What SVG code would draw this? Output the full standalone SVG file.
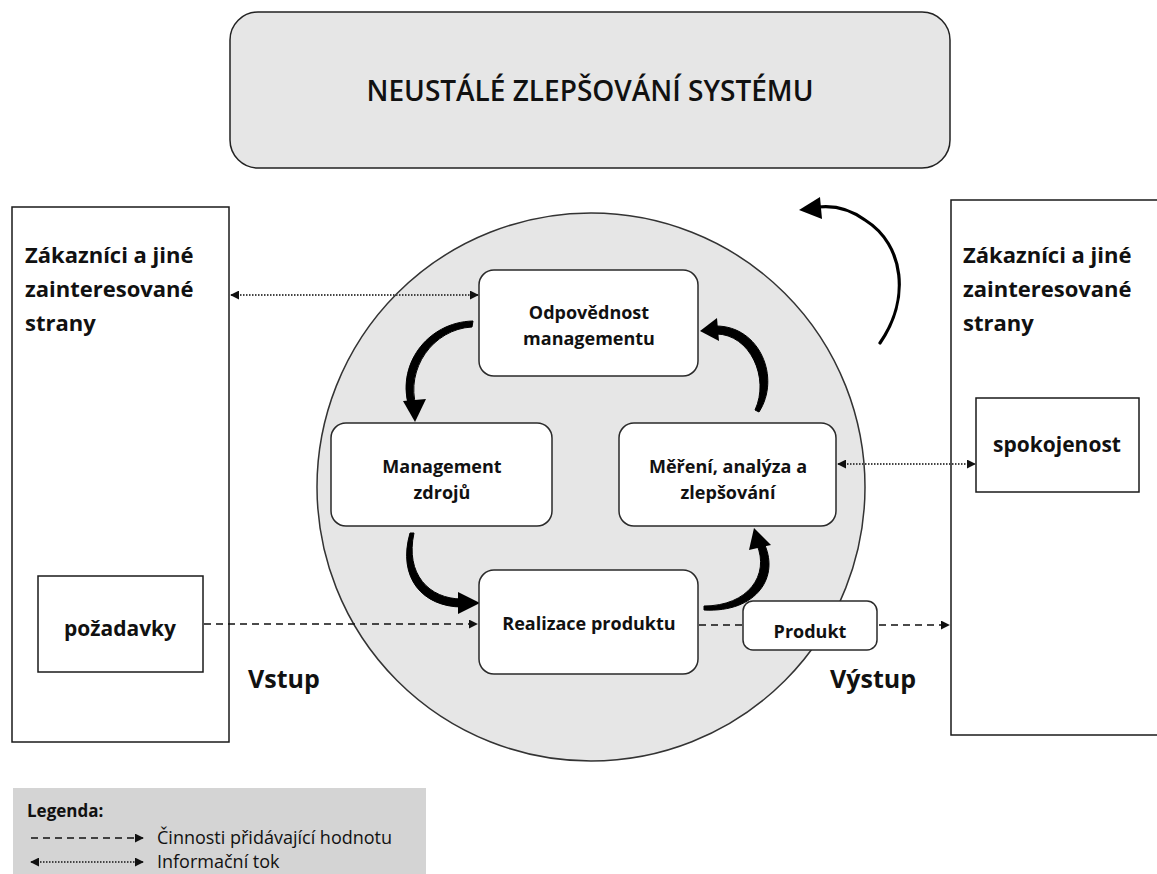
<svg xmlns="http://www.w3.org/2000/svg" width="1157" height="874" viewBox="0 0 1157 874">
  <style>
    text { font-family: "Open Sans", "Liberation Sans", sans-serif; fill: #111; }
    .b { font-weight: 700; }
    .node { fill: #ffffff; stroke: #2a2a2a; stroke-width: 1.5; }
    .side { fill: #ffffff; stroke: #1a1a1a; stroke-width: 1.5; }
    .cyc { fill: #000; stroke: #000; stroke-width: 1; stroke-linejoin: round; }
    .head { fill: #000; }
    .dash { fill: none; stroke: #111; stroke-width: 1.5; stroke-dasharray: 7 5; }
    .dot { fill: none; stroke: #444; stroke-width: 2; stroke-dasharray: 1.5 1.5; }
  </style>
  <defs>
    <marker id="tri" viewBox="0 0 10 10" refX="9" refY="5" markerWidth="9" markerHeight="9" markerUnits="userSpaceOnUse" orient="auto-start-reverse">
      <path d="M0,0 L10,5 L0,10 z" fill="#111"/>
    </marker>
  </defs>

  <rect width="1157" height="874" fill="#ffffff"/>

  <!-- top banner -->
  <g id="banner">
    <rect x="230" y="12" width="720" height="156" rx="28" fill="#e6e6e6" stroke="#222" stroke-width="1.5"/>
    <text x="590" y="101" text-anchor="middle" font-size="28" font-weight="600">NEUSTÁLÉ ZLEPŠOVÁNÍ SYSTÉMU</text>
  </g>

  <!-- customer columns -->
  <g id="customers-left">
    <rect class="side" x="12" y="207" width="217" height="535"/>
    <text class="b" x="25" y="263" font-size="22">Zákazníci a jiné</text>
    <text class="b" x="25" y="297" font-size="22">zainteresované</text>
    <text class="b" x="25" y="331" font-size="22">strany</text>
  </g>
  <g id="customers-right">
    <rect class="side" x="951" y="200" width="210" height="535"/>
    <text class="b" x="963" y="263" font-size="22">Zákazníci a jiné</text>
    <text class="b" x="963" y="297" font-size="22">zainteresované</text>
    <text class="b" x="963" y="331" font-size="22">strany</text>
  </g>

  <!-- process circle -->
  <g id="process-circle">
    <circle cx="591" cy="487" r="274" fill="#e6e6e6" stroke="#333" stroke-width="1.5"/>
  </g>

  <!-- improvement arrow -->
  <g id="improvement-arrow">
    <path d="M880,343 C910,300 905,245 865,220 C850,209 835,205 818,207" fill="none" stroke="#000" stroke-width="3.2" stroke-linecap="round"/>
    <path class="head" d="M799,210 L820,197 L822,219 z"/>
  </g>

  <!-- connectors -->
  <g id="connectors">
    <line class="dot" x1="231" y1="295" x2="478" y2="295" marker-start="url(#tri)" marker-end="url(#tri)"/>
    <line class="dot" x1="838" y1="464" x2="975" y2="464" marker-start="url(#tri)" marker-end="url(#tri)"/>
    <line class="dash" x1="204" y1="624" x2="477" y2="624" marker-end="url(#tri)"/>
    <line class="dash" x1="699" y1="625" x2="949" y2="625" marker-end="url(#tri)"/>

    <!-- cycle arrows: tapered bodies, thin at the tail -->
    <path class="cyc" d="M473,321 C427,322 395,366 409.7,409.1 L416.3,406.9 C405,369 433,329 472,327 z"/>
    <path class="head" d="M415,422 L403,401 L426,399 z"/>

    <path class="cyc" d="M410,533 C397,578 423,607 462,607 L462,599 C429,599 405,574 414,533 z"/>
    <path class="head" d="M480,603 L458,592 L458,614 z"/>

    <path class="cyc" d="M704,610 C757,613 781,576 763.2,541.5 L756.8,544.5 C770,575 748,606 704,606 z"/>
    <path class="head" d="M754,528 L749,550 L771,545 z"/>

    <path class="cyc" d="M759,412 C781,378 760,326 716,326 L716,334 C750,334 770,378 755,410 z"/>
    <path class="head" d="M700,331 L717,318 L719,341 z"/>
  </g>

  <!-- nodes -->
  <g id="node-odpovednost">
    <rect class="node" x="479" y="270" width="219" height="106" rx="15"/>
    <text class="b" x="589" y="319" text-anchor="middle" font-size="18">Odpovědnost</text>
    <text class="b" x="589" y="345" text-anchor="middle" font-size="18">managementu</text>
  </g>
  <g id="node-zdroje">
    <rect class="node" x="331" y="423" width="221" height="103" rx="15"/>
    <text class="b" x="442" y="473" text-anchor="middle" font-size="18">Management</text>
    <text class="b" x="442" y="499" text-anchor="middle" font-size="18">zdrojů</text>
  </g>
  <g id="node-mereni">
    <rect class="node" x="619" y="423" width="217" height="103" rx="15"/>
    <text class="b" x="728" y="473" text-anchor="middle" font-size="18">Měření, analýza a</text>
    <text class="b" x="728" y="499" text-anchor="middle" font-size="18">zlepšování</text>
  </g>
  <g id="node-realizace">
    <rect class="node" x="479" y="570" width="219" height="104" rx="15"/>
    <text class="b" x="589" y="630" text-anchor="middle" font-size="18">Realizace produktu</text>
  </g>
  <g id="node-produkt">
    <rect class="node" x="743" y="601" width="134" height="49" rx="10"/>
    <text class="b" x="810" y="638" text-anchor="middle" font-size="18">Produkt</text>
  </g>
  <g id="node-spokojenost">
    <rect class="side" x="976" y="398" width="163" height="94"/>
    <text class="b" x="1057" y="452" text-anchor="middle" font-size="21">spokojenost</text>
  </g>
  <g id="node-pozadavky">
    <rect class="side" x="38" y="576" width="165" height="96"/>
    <text class="b" x="120" y="636" text-anchor="middle" font-size="21">požadavky</text>
  </g>

  <!-- flow labels -->
  <text class="b" x="248" y="688" font-size="25">Vstup</text>
  <text class="b" x="830" y="688" font-size="25">Výstup</text>

  <!-- legend -->
  <g id="legend">
    <rect x="13" y="788" width="413" height="90" fill="#d4d4d4"/>
    <text class="b" x="27" y="817" font-size="17">Legenda:</text>
    <line class="dash" x1="31" y1="838" x2="143" y2="838" stroke-dasharray="5 4" marker-end="url(#tri)"/>
    <text x="157" y="844" font-size="18">Činnosti přidávající hodnotu</text>
    <line class="dot" x1="31" y1="862" x2="143" y2="862" marker-start="url(#tri)" marker-end="url(#tri)"/>
    <text x="157" y="868" font-size="18">Informační tok</text>
  </g>
</svg>
